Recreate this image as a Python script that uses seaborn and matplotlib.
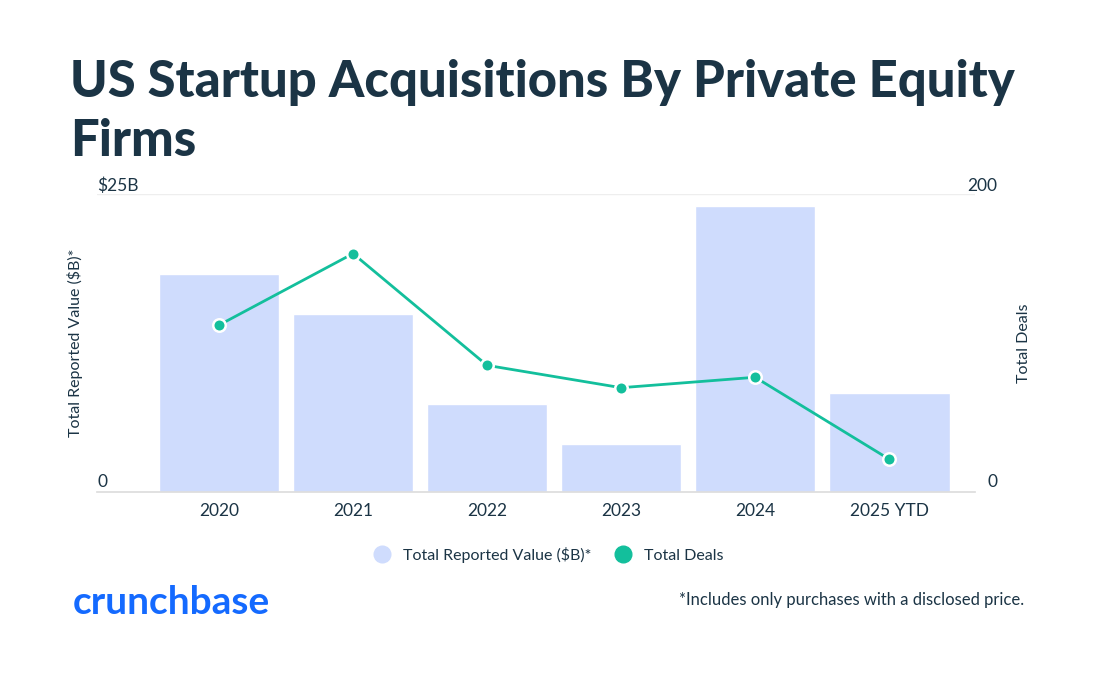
import matplotlib
matplotlib.use("Agg")
import matplotlib.pyplot as plt
import seaborn as sns
import pandas as pd

years = ["2020", "2021", "2022", "2023", "2024", "2025 YTD"]
value_b = [18.3, 14.9, 7.4, 4.0, 24.0, 8.3]
deals = [112, 160, 85, 70, 77, 22]

navy = "#1b3445"
bar_c = "#cfdcfd"
line_c = "#13bf9c"

sns.set_theme(style="white")
plt.rcParams["font.family"] = ["Lato", "DejaVu Sans"]

fig = plt.figure(figsize=(11.04, 6.86), dpi=100)
W, H = 1104, 686
ax = fig.add_axes([97 / W, 1 - 492 / H, (975 - 97) / W, (492 - 194) / H])

df = pd.DataFrame({"year": years, "value": value_b, "deals": deals})
sns.barplot(data=df, x="year", y="value", color=bar_c, width=0.9, ax=ax, saturation=1)
ax.set_ylim(0, 25)
ax.set_xlim(-0.91, 5.64)
ax.set_yticks([])
ax.set_xlabel("")
ax.set_ylabel("Total Reported Value ($B)*", fontsize=11.5, color=navy, labelpad=10)
ax.tick_params(axis="x", labelsize=12.5, labelcolor=navy, length=0, pad=8)
for s in ["top", "right", "left"]:
    ax.spines[s].set_visible(False)
ax.spines["bottom"].set_color("#dddddd")
ax.axhline(25, color="#eeeeee", lw=1, zorder=0)

ax2 = ax.twinx()
sns.lineplot(x=list(range(len(years))), y=deals, ax=ax2, color=line_c, lw=2,
             marker="o", markersize=9, markeredgecolor="white", markeredgewidth=1.8,
             legend=False)
ax2.set_ylim(0, 200)
ax2.set_yticks([])
ax2.set_ylabel("Total Deals", fontsize=11.5, color=navy, labelpad=30)
for s in ["top", "right", "left", "bottom"]:
    ax2.spines[s].set_visible(False)

fig.text(97 / W, 1 - 194 / H, "$25B", fontsize=12.5, color=navy, va="bottom")
fig.text(97 / W, 1 - 490 / H, "0", fontsize=12.5, color=navy, va="bottom")
fig.text(997 / W, 1 - 194 / H, "200", fontsize=12.5, color=navy, va="bottom", ha="right")
fig.text(997 / W, 1 - 490 / H, "0", fontsize=12.5, color=navy, va="bottom", ha="right")

fig.text(70 / W, 1 - 97 / H, "US Startup Acquisitions By Private Equity", fontsize=36.5,
         fontweight="black", color=navy, va="baseline")
fig.text(70 / W, 1 - 156 / H, "Firms", fontsize=36.5, fontweight="black", color=navy, va="baseline")

h1 = plt.Line2D([], [], marker="o", ls="", color=bar_c, markersize=12)
h2 = plt.Line2D([], [], marker="o", ls="", color=line_c, markersize=12)
fig.legend([h1, h2], ["Total Reported Value ($B)*", "Total Deals"], loc="center",
           bbox_to_anchor=(545 / W, 1 - 555 / H), ncol=2, frameon=False,
           fontsize=11.5, labelcolor=navy, handletextpad=0.3, columnspacing=1.0)

fig.text(73 / W, 1 - 602 / H, "crunchbase", fontsize=28, fontweight="bold",
         color="#146aff", va="center")
fig.text(1024 / W, 1 - 600 / H, "*Includes only purchases with a disclosed price.",
         fontsize=12, color=navy, ha="right", va="center")

fig.savefig("out.png", dpi=100)
